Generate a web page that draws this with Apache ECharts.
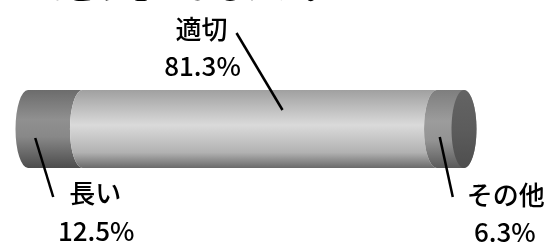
<!DOCTYPE html>
<html><head><meta charset="utf-8">
<script src="https://cdn.jsdelivr.net/npm/echarts@6/dist/echarts.min.js"></script>
<style>html,body{margin:0;padding:0;background:#fff;overflow:hidden}#c{width:558px;height:243px}</style>
</head><body><div id="c"></div>
<script>
const titleText = '長さについてどう思いましたか。';
const categories = ['長い', '適切', 'その他'];
const values = [12.5, 81.3, 6.3];

const total = values.reduce((a, b) => a + b, 0);
const segData = [];
let acc = 0;
values.forEach((v, i) => { segData.push([acc, acc + v, i]); acc += v; });

const FONT = '"Noto Sans CJK JP", "Noto Sans CJK SC", sans-serif';
const fills = [
  [[0, '#6c6c6c'], [0.38, '#909090'], [0.6, '#888888'], [1, '#4c4c4c']],
  [[0, '#a0a0a0'], [0.45, '#dadada'], [0.8, '#b2b2b2'], [1, '#6a6a6a']],
  [[0, '#7e7e7e'], [0.4, '#9c9c9c'], [0.65, '#939393'], [1, '#5a5a5a']]
];
const capFill = [[0, '#646464'], [0.5, '#5c5c5c'], [1, '#4e4e4e']];
// label layout offsets relative to segment centre (line start, line end, name, percent)
const labelLayout = [
  { l0: [-20, 9], l1: [-2, 68], name: [40, 51], pct: [41, 89] },
  { l0: [-23, -96], l1: [23, -19], name: [-58, -113], pct: [-57, -76] },
  { l0: [-10.5, 8], l1: [2.5, 68], name: [55.5, 53], pct: [54.5, 90] }
];
const RX = 12.5;

function grad(stops) {
  return { type: 'linear', x: 0, y: 0, x2: 0, y2: 1,
    colorStops: stops.map(s => ({ offset: s[0], color: s[1] })) };
}

function renderSeg(params, api) {
  const i = api.value(2);
  const p0 = api.coord([api.value(0), 0]);
  const p1 = api.coord([api.value(1), 0]);
  const h = api.size([0, 1])[1];
  const cy = p0[1], top = cy - h / 2, bot = cy + h / 2, ry = h / 2;
  const x0 = p0[0], x1 = p1[0];
  const last = i === values.length - 1;
  const d = 'M' + x0 + ' ' + top + ' L' + x1 + ' ' + top +
    ' A' + RX + ' ' + ry + ' 0 0 ' + (last ? 1 : 0) + ' ' + x1 + ' ' + bot +
    ' L' + x0 + ' ' + bot +
    ' A' + RX + ' ' + ry + ' 0 0 1 ' + x0 + ' ' + top + ' Z';
  const children = [{
    type: 'path', shape: { pathData: d },
    style: { fill: grad(fills[i]), stroke: null }
  }];
  if (last) {
    children.push({
      type: 'ellipse', shape: { cx: x1, cy: cy, rx: RX, ry: ry },
      style: { fill: grad(capFill), stroke: null }
    });
  }
  return { type: 'group', children: children };
}

function renderLabel(params, api) {
  const i = api.value(2);
  const p0 = api.coord([api.value(0), 0]);
  const p1 = api.coord([api.value(1), 0]);
  const mx = (p0[0] + p1[0]) / 2, cy = p0[1];
  const L = labelLayout[i];
  return { type: 'group', children: [
    { type: 'line', shape: { x1: mx + L.l0[0], y1: cy + L.l0[1], x2: mx + L.l1[0], y2: cy + L.l1[1] },
      style: { stroke: '#000', lineWidth: 2.5 } },
    { type: 'text', x: mx + L.name[0], y: cy + L.name[1],
      style: { text: categories[i], font: '500 26px ' + FONT, fill: '#000', align: 'center', verticalAlign: 'top' } },
    { type: 'text', x: mx + L.pct[0], y: cy + L.pct[1],
      style: { text: values[i].toFixed(1) + '%', font: '500 26px ' + FONT, fill: '#000', align: 'center', verticalAlign: 'top' } }
  ] };
}

const chart = echarts.init(document.getElementById('c'), null, { renderer: 'canvas' });
chart.setOption({
  animation: false,
  backgroundColor: '#fff',
  graphic: [{
    type: 'text', right: 223, top: -28,
    style: { text: titleText, font: 'bold 30px ' + FONT, fill: '#000' }
  }],
  grid: { left: 28, right: 94, top: 90, bottom: 75 },
  xAxis: { type: 'value', min: 0, max: total, show: false },
  yAxis: { type: 'category', data: ['q'], show: false },
  series: [
    { type: 'custom', renderItem: renderSeg, data: segData, encode: { x: [0, 1] }, z: 2, silent: true },
    { type: 'custom', renderItem: renderLabel, data: segData, encode: { x: [0, 1] }, z: 5, silent: true }
  ]
});
</script></body></html>
